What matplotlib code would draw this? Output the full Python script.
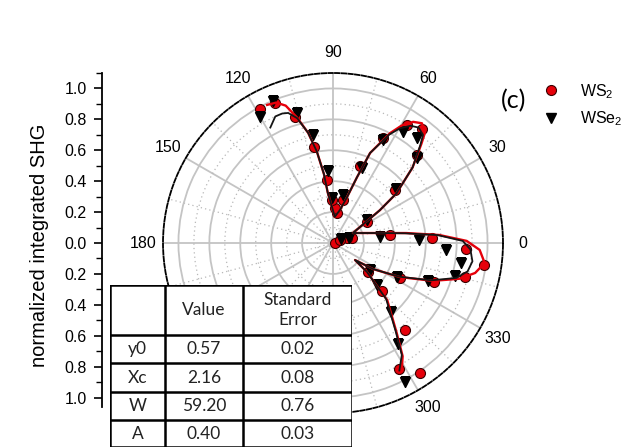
import numpy as np
import matplotlib
matplotlib.use("Agg")
import matplotlib.pyplot as plt
from matplotlib.ticker import FixedLocator

plt.rcParams['font.family'] = ['Liberation Sans', 'DejaVu Sans']
plt.rcParams['mathtext.default'] = 'regular'

# ---------------- data ----------------
ws2_theta = [0, -62.5, -56.2, -50.4, -44.4, -39.6, -27.6, -20.9, -14.4, -8.3, -2.6, 2.9, 8, 14,
             19.6, 23, 31.7, 40.5, 46.3, 52, 57.9, 64.5, 70.9, 77, 82.4, 86.8, 91.3,
             95.4, 101.2, 106.8, 112.5, 118.7]
ws2_r = [0.01, 0.92, 1.01, 0.73, 0.44, 0.29, 0.49, 0.70, 0.88, 0.985, 0.86, 0.64, 0.37, 0.13,
         0.096, 0.05, 0.26, 0.53, 0.785, 0.94, 0.90, 0.75, 0.53, 0.285, 0.195, 0.23, 0.28,
         0.41, 0.63, 0.85, 0.98, 0.99]

wse2_theta = [-62.6, -57.2, -50, -43.7, -36, -27.6, -21.8, -15, -8.9, -3.5, 2, 7.3, 17, 26.6,
              34, 40.7, 45.3, 51.6, 57.8, 64.1, 68.9, 78, 91.3, 93.9, 100.5, 105.5, 112.8, 120]
wse2_r = [1.01, 0.775, 0.58, 0.39, 0.295, 0.47, 0.66, 0.82, 0.836, 0.73, 0.56, 0.305, 0.108, 0.058,
          0.265, 0.54, 0.77, 0.87, 0.85, 0.74, 0.52, 0.32, 0.29, 0.47, 0.71, 0.87, 1.0, 0.94]

fit_red_theta = [-61, -58.4, -54.6, -46.5, -40.5, -37.7, -33, -27, -20.8, -15.8, -11.9, -7.5,
                 -2.7, 0.9, 4.3, 7.7, 12, 26.6, 35, 38, 43.5, 48.3, 50.2, 53.4, 56.5, 59.7,
                 62.6, 67.6, 70, 73, 78, 86, 92, 96, 97.5, 100, 102.7, 106, 109, 112, 115.5]
fit_red_r = [0.92, 0.86, 0.71, 0.51, 0.29, 0.18, 0.31, 0.485, 0.69, 0.85, 0.94, 0.99,
             0.95, 0.865, 0.69, 0.48, 0.31, 0.144, 0.37, 0.52, 0.71, 0.86, 0.93, 0.965, 0.94, 0.88,
             0.80, 0.63, 0.45, 0.31, 0.22, 0.17, 0.24, 0.33, 0.45, 0.60, 0.73, 0.845, 0.94, 0.98, 0.99]

fit_black_theta = [-62.5, -58.4, -54.6, -46.5, -40.5, -37.7, -33, -27, -20.8, -15.8, -11.9, -7.5,
                   -2.7, 0.9, 4.3, 7.7, 12, 26.6, 35, 38, 43.5, 48.3, 50.2, 53.4, 56.5, 59.7,
                   62.6, 67.6, 70, 73, 78, 86, 92, 96, 97.5, 100, 102.7, 106, 109, 111.4, 114.5, 118.5]
fit_black_r = [0.93, 0.85, 0.70, 0.50, 0.29, 0.18, 0.31, 0.48, 0.68, 0.83, 0.89, 0.91,
               0.89, 0.84, 0.68, 0.47, 0.31, 0.144, 0.37, 0.52, 0.71, 0.85, 0.91, 0.93, 0.91, 0.86,
               0.79, 0.63, 0.45, 0.31, 0.22, 0.17, 0.24, 0.33, 0.45, 0.60, 0.73, 0.84, 0.89, 0.90, 0.90, 0.85]

angle_ticks = list(range(0, 360, 30))
angle_labels = [str(a) for a in angle_ticks]
y_ticks = [-1.0, -0.8, -0.6, -0.4, -0.2, 0.0, 0.2, 0.4, 0.6, 0.8, 1.0]
y_tick_labels = ["1.0", "0.8", "0.6", "0.4", "0.2", "0.0", "0.2", "0.4", "0.6", "0.8", "1.0"]

table_header = ["", "Value", "Standard\nError"]
table_rows = ["y0", "Xc", "W", "A"]
table_values = ["0.57", "2.16", "59.20", "0.40"]
table_errors = ["0.02", "0.08", "0.76", "0.03"]

series_labels = ["WS$_2$", "WSe$_2$"]
ylabel = "normalized integrated SHG"
panel_label = "(c)"

# ---------------- figure ----------------
W, H = 636, 448
fig = plt.figure(figsize=(W / 100, H / 100), dpi=100)
cx, cy, R = 333, 243, 170

ax = fig.add_axes([(cx - R) / W, (H - cy - R) / H, 2 * R / W, 2 * R / H], projection='polar')
ax.set_ylim(0, 1.1)
ax.set_xticks(np.deg2rad(angle_ticks))
ax.set_xticklabels(angle_labels, fontsize=11.5)
ax.xaxis.set_minor_locator(FixedLocator(np.deg2rad(np.arange(15, 360, 30))))
ax.yaxis.set_major_locator(FixedLocator([0.2, 0.4, 0.6, 0.8, 1.0]))
ax.yaxis.set_minor_locator(FixedLocator([0.1, 0.3, 0.5, 0.7, 0.9]))
ax.set_yticklabels([])
ax.grid(which='major', color='#c4c4c4', lw=1.3, ls='-')
ax.grid(which='minor', color='#b8b8b8', lw=0.9, ls=(0, (1, 2.5)))
ax.tick_params(axis='x', which='major', direction='in', length=6, width=1.1, color='black', pad=7.5)
ax.tick_params(axis='x', which='minor', direction='in', length=5, width=1.0, color='black')
ax.tick_params(axis='y', which='both', length=0)
ax.spines['polar'].set_linestyle((0, (2.5, 1.2)))
ax.spines['polar'].set_linewidth(1.3)
ax.spines['polar'].set_color('black')

h_ws2, = ax.plot(np.deg2rad(ws2_theta), ws2_r, 'o', ms=7.2, mfc='#e6000a', mec='#3a0000',
                 mew=0.8, ls='none', zorder=3, label=series_labels[0])
h_wse2, = ax.plot(np.deg2rad(wse2_theta), wse2_r, 'v', ms=7.2, mfc='black', mec='black',
                  ls='none', zorder=3, label=series_labels[1])
ax.plot(np.deg2rad(fit_red_theta), fit_red_r, color='#e6000a', lw=1.7, zorder=4)
ax.plot(np.deg2rad(fit_black_theta), fit_black_r, color='#151515', lw=1.3, zorder=5)

# ---------------- left linear axis ----------------
axl = fig.add_axes([102 / W, (H - cy - R) / H, 0.002, 2 * R / H])
axl.set_ylim(-1.1, 1.1)
axl.patch.set_visible(False)
for s in ['top', 'right', 'bottom']:
    axl.spines[s].set_visible(False)
axl.spines['left'].set_bounds(-1.06, 1.1)
axl.spines['left'].set_linewidth(1.3)
axl.set_xticks([])
axl.yaxis.set_major_locator(FixedLocator(y_ticks))
axl.set_yticklabels(y_tick_labels, fontsize=11.5)
axl.yaxis.set_minor_locator(FixedLocator(np.round(np.arange(-1.0, 1.11, 0.1), 2)))
axl.tick_params(axis='y', which='major', length=6, width=1.2, pad=5)
axl.tick_params(axis='y', which='minor', length=4, width=1.0)
fig.text(40 / W, (H - 245) / H, ylabel, rotation=90, ha='center', va='center', fontsize=14.5)

# ---------------- legend & panel label ----------------
fig.legend(handles=[h_ws2, h_wse2], labels=series_labels, loc='upper left',
           bbox_to_anchor=(543 / W, 1 - 82 / H), frameon=False, fontsize=11.5,
           handlelength=1.0, handletextpad=1.3, labelspacing=0.55, borderpad=0, borderaxespad=0)
fig.text(514 / W, 1 - 101 / H, panel_label, ha='center', va='center', fontsize=18, family='Lato')

# ---------------- parameter table ----------------
tx0, tx1, ty0, ty1 = 110, 352, 285, 447
axt = fig.add_axes([tx0 / W, (H - ty1) / H, (tx1 - tx0) / W, (ty1 - ty0) / H])
axt.set_xlim(tx0, tx1)
axt.set_ylim(ty1, ty0)
axt.axis('off')
axt.add_patch(plt.Rectangle((tx0, ty0), tx1 - tx0, ty1 - ty0, facecolor='white', edgecolor='none'))
col_x = [110, 165, 243, 352]
row_y = [285, 335, 363, 392, 420, 447]
for x in col_x:
    axt.plot([x, x], [row_y[0], row_y[-1]], color='black', lw=1.8, solid_capstyle='projecting')
for y in row_y:
    axt.plot([col_x[0], col_x[-1]], [y, y], color='black', lw=1.8, solid_capstyle='projecting')
tfont = dict(family='Lato', fontsize=12.5, ha='center', va='center', color='#222222')
for j, txt in enumerate(table_header):
    axt.text((col_x[j] + col_x[j + 1]) / 2, (row_y[0] + row_y[1]) / 2, txt, linespacing=1.35, **tfont)
for i in range(len(table_rows)):
    yc = (row_y[i + 1] + row_y[i + 2]) / 2
    for j, txt in enumerate([table_rows[i], table_values[i], table_errors[i]]):
        axt.text((col_x[j] + col_x[j + 1]) / 2, yc, txt, **tfont)

fig.savefig("out.png", dpi=100)
